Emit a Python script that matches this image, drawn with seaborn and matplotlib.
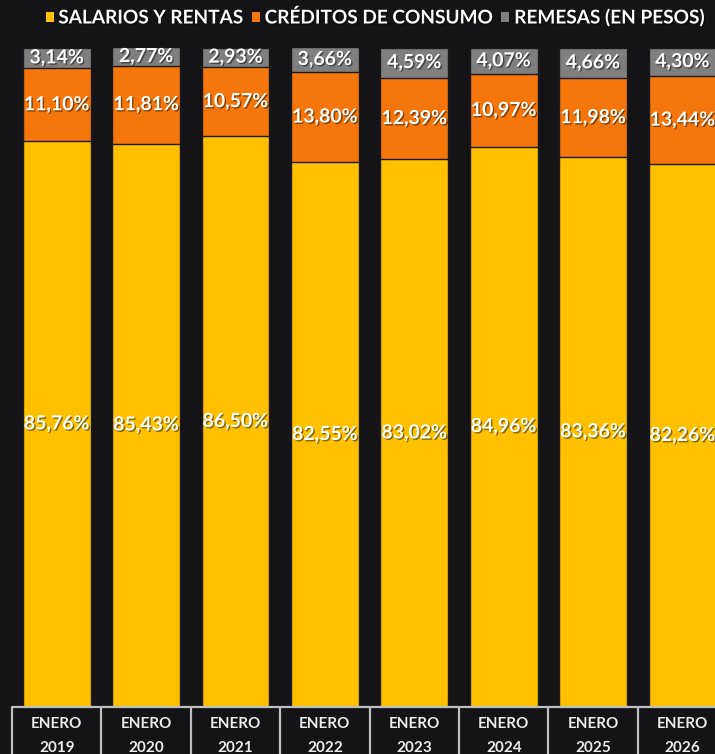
import matplotlib
matplotlib.use("Agg")
import matplotlib.pyplot as plt
import matplotlib.patheffects as pe
from matplotlib.patches import Patch
import numpy as np
import pandas as pd
import seaborn as sns

# ---- data ----
years = ["2019", "2020", "2021", "2022", "2023", "2024", "2025", "2026"]
categories = ["ENERO\n" + y for y in years]
salarios = [85.76, 85.43, 86.50, 82.55, 83.02, 84.96, 83.36, 82.26]
creditos = [11.10, 11.81, 10.57, 13.80, 12.39, 10.97, 11.98, 13.44]
remesas = [3.14, 2.77, 2.93, 3.66, 4.59, 4.07, 4.66, 4.30]
series_names = ["SALARIOS Y RENTAS", "CRÉDITOS DE CONSUMO", "REMESAS (EN PESOS)"]

BG = "#141416"
C_YEL = "#FFC000"
C_ORA = "#F5760A"
C_GRY = "#7F7F7F"
FONT = ["Lato", "DejaVu Sans"]

sns.set_theme(style="white")
plt.rcParams["font.family"] = FONT
plt.rcParams["font.weight"] = "bold"

df = pd.DataFrame({"cat": categories, "sal": salarios, "cre": creditos, "rem": remesas})
df["top_cre"] = df["sal"] + df["cre"]
df["top_rem"] = df["top_cre"] + df["rem"]

fig = plt.figure(figsize=(7.15, 7.54), dpi=100, facecolor=BG)
W, H = 715, 754
ax = fig.add_axes([12 / W, (H - 706.5) / H, 8 * 89.4 / W, (706.5 - 47.5) / H])
ax.set_facecolor(BG)

bw = 0.76
ekw = dict(edgecolor="#1a1a1a", linewidth=1.0)
sns.barplot(data=df, x="cat", y="top_rem", color=C_GRY, width=bw, ax=ax, saturation=1, **ekw)
sns.barplot(data=df, x="cat", y="top_cre", color=C_ORA, width=bw, ax=ax, saturation=1, **ekw)
sns.barplot(data=df, x="cat", y="sal", color=C_YEL, width=bw, ax=ax, saturation=1, **ekw)

ax.set_xlim(-0.5, 7.5)
ax.set_ylim(0, 100)
for s in ax.spines.values():
    s.set_visible(False)
ax.set_yticks([])
ax.set_xlabel("")
ax.set_ylabel("")
ax.tick_params(axis="x", length=0, pad=7.5, colors="#EDEDED", labelsize=11)
for t in ax.get_xticklabels():
    t.set_linespacing(1.95)
    t.set_fontweight("bold")

# table-like frame under the bars
ax.axhline(0, color="#BFBFBF", lw=1.6, clip_on=False, zorder=5)
ax.vlines(np.arange(9) - 0.5, -0.2, 0, transform=ax.get_xaxis_transform(),
          color="#BFBFBF", lw=1.6, clip_on=False)

shadow = [pe.withSimplePatchShadow(offset=(1, -1), shadow_rgbFace="black", alpha=0.45)]
tkw = dict(ha="center", va="center", color="white", fontsize=14, fontweight="bold",
           path_effects=shadow, zorder=6)
for i in range(len(categories)):
    s, c, r = salarios[i], creditos[i], remesas[i]
    ax.text(i, s / 2, f"{s:.2f}%".replace(".", ","), **tkw)
    ax.text(i, s + c / 2, f"{c:.2f}%".replace(".", ","), **tkw)
    ax.text(i, s + c + r / 2, f"{r:.2f}%".replace(".", ","), **tkw)

handles = [Patch(facecolor=c, edgecolor="none") for c in (C_YEL, C_ORA, C_GRY)]
leg = fig.legend(handles, series_names, loc="center", bbox_to_anchor=(375 / W, 1 - 17.5 / H),
                 ncol=3, frameon=False, handlelength=0.42, handleheight=0.42,
                 handletextpad=0.25, columnspacing=0.45,
                 prop={"family": FONT, "weight": "bold", "size": 13.7})
for t in leg.get_texts():
    t.set_color("white")
    t.set_path_effects(shadow)

fig.savefig("out.png", dpi=100, facecolor=BG)
